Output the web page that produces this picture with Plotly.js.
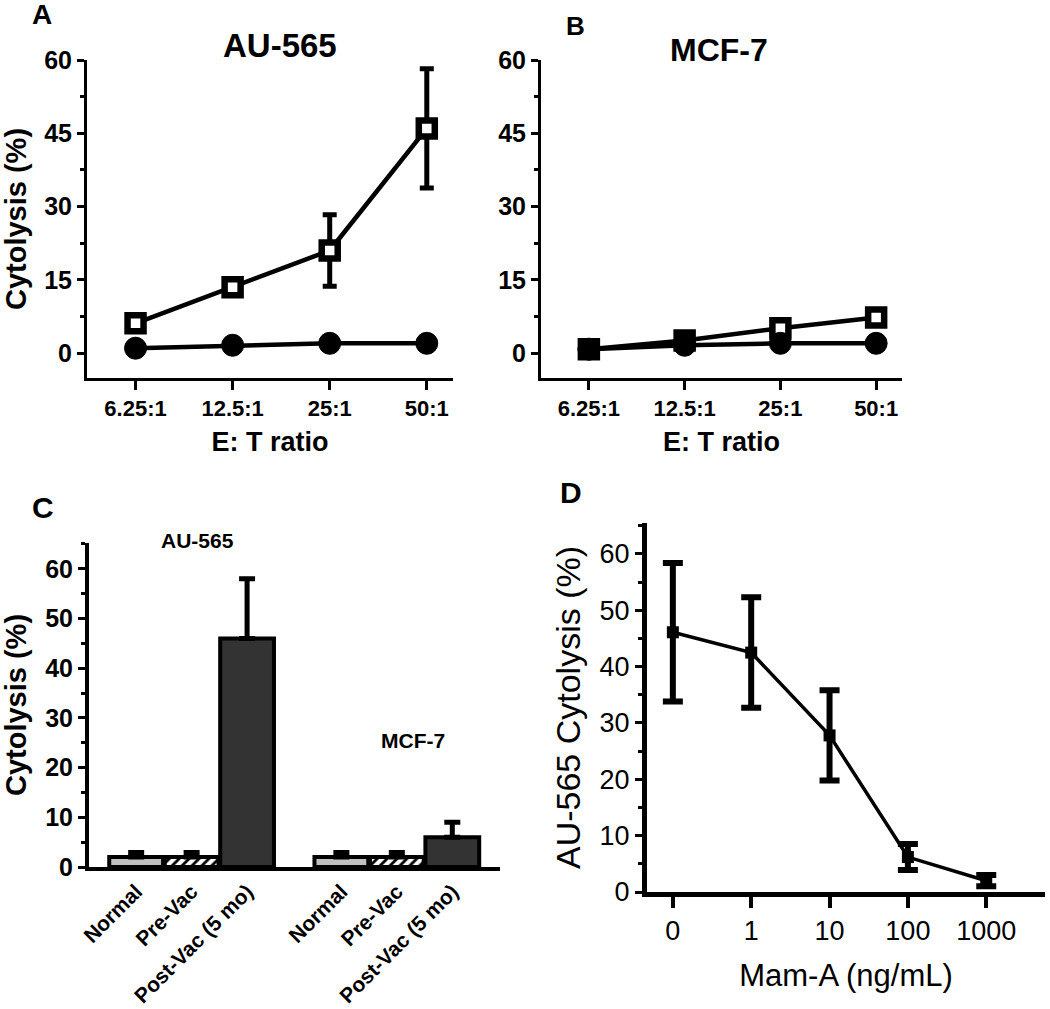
<!DOCTYPE html>
<html>
<head>
<meta charset="utf-8">
<script src="https://cdn.plot.ly/plotly-3.0.1.min.js"></script>
<style>html,body{margin:0;padding:0;background:#fff}#chart{width:1050px;height:1009px}</style>
</head>
<body>
<div id="chart"></div>
<script>
// ---------- DATA ----------
const ratios = ["6.25:1", "12.5:1", "25:1", "50:1"];
// Panel A (AU-565)
const auPost = [6.1, 13.5, 21.0, 46.0];
const auPostErr = [1.5, 1.5, 7.3, 12.2];
const auPre = [1.0, 1.6, 2.0, 2.0];
const auPreErr = [1.0, 1.0, 1.0, 1.0];
// Panel B (MCF-7)
const mcfPost = [0.8, 2.6, 5.1, 7.3];
const mcfPostErr = [1.0, 1.0, 1.0, 1.2];
const mcfPre = [0.8, 1.6, 2.0, 2.0];
const mcfPreErr = [1.0, 1.0, 1.0, 1.0];
// Panel C
const cellLines = ["AU-565", "MCF-7"];
const conditions = ["Normal", "Pre-Vac", "Post-Vac (5 mo)"];
const normalVals = [2.0, 2.0];
const normalErr = [0.9, 0.9];
const preVacVals = [2.0, 2.0];
const preVacErr = [0.9, 0.9];
const postVacVals = [46.0, 6.0];
const postVacErr = [12.0, 3.0];
// Panel D
const mamDoses = ["0", "1", "10", "100", "1000"];
const mamVals = [46.1, 42.5, 27.8, 6.2, 2.0];
const mamErr = [12.3, 9.8, 8.0, 2.3, 1.0];

// ---------- LAYOUT HELPERS ----------
const W = 1050, H = 1009;
const dx = (a, b) => [a / W, b / W];
const dy = (top, bottom) => [1 - bottom / H, 1 - top / H];
const FONT = "Liberation Sans, Arial, sans-serif";
const boldF = (s) => ({family: FONT, size: s, color: "#000", weight: "bold"});
const regF = (s) => ({family: FONT, size: s, color: "#000"});

// ---------- TRACES ----------
const traces = [];
function lineSeries(xa, ya, x, y, e, symbol) {
  const open = symbol === "square";
  return {
    type: "scatter", mode: "lines+markers", xaxis: xa, yaxis: ya,
    x: x, y: y, cliponaxis: false,
    line: {color: "#000", width: 4.5},
    marker: open
      ? {symbol: "square", size: 16, color: "#fff", line: {color: "#000", width: 6.5}}
      : {symbol: "circle", size: 22, color: "#000", line: {color: "#000", width: 1}},
    error_y: {type: "data", array: e, visible: true, color: "#000", thickness: 5, width: 7},
    showlegend: false, hoverinfo: "x+y"
  };
}
traces.push(lineSeries("x", "y", ratios, auPost, auPostErr, "square"));
traces.push(lineSeries("x", "y", ratios, auPre, auPreErr, "circle"));
traces.push(lineSeries("x2", "y2", ratios, mcfPost, mcfPostErr, "square"));
traces.push(lineSeries("x2", "y2", ratios, mcfPre, mcfPreErr, "circle"));

// Panel C bars
const groupGap = 3.7;
const condVals = [normalVals, preVacVals, postVacVals];
const condErr = [normalErr, preVacErr, postVacErr];
const condColor = ["#c0c0c0", "#ffffff", "#333333"];
conditions.forEach((c, k) => {
  const bar = {
    type: "bar", xaxis: "x3", yaxis: "y3", name: c,
    x: cellLines.map((_, g) => g * groupGap + k),
    y: condVals[k], width: 0.97,
    marker: {color: condColor[k], line: {color: "#000", width: 4}},
    error_y: {type: "data", symmetric: false, array: condErr[k],
              arrayminus: condErr[k].map(() => 0), visible: true,
              color: "#000", thickness: 5, width: 8},
    showlegend: false
  };
  if (k === 1) {
    bar.marker.pattern = {shape: "/", fgcolor: "#000", bgcolor: "#fff", size: 7, solidity: 0.4};
  }
  traces.push(bar);
});

// Panel D
traces.push({
  type: "scatter", mode: "lines+markers", xaxis: "x4", yaxis: "y4",
  x: mamDoses, y: mamVals, cliponaxis: false,
  line: {color: "#000", width: 3.5},
  marker: {symbol: "square", size: 12, color: "#000"},
  error_y: {type: "data", array: mamErr, visible: true, color: "#000", thickness: 6, width: 10},
  showlegend: false
});

// ---------- AXES ----------
const catX = (domain, range) => ({
  domain: domain, range: range, type: "category",
  showgrid: false, zeroline: false, showline: true, linecolor: "#000", linewidth: 3,
  ticks: "outside", ticklen: 9, tickwidth: 3, tickcolor: "#000",
  tickfont: boldF(22), fixedrange: true
});
const valY = (domain, range, dtick, minorDt, lw) => ({
  domain: domain, range: range, showgrid: false, zeroline: false,
  showline: true, linecolor: "#000", linewidth: lw,
  ticks: "outside", ticklen: 7, tickwidth: 3, tickcolor: "#000",
  tickmode: "linear", tick0: 0, dtick: dtick,
  minor: {dtick: minorDt, tick0: 0, ticks: "outside", ticklen: 4, tickwidth: 3, tickcolor: "#000"},
  fixedrange: true
});

const ann = (text, x, y, font) => ({
  text: text, x: x / W, y: 1 - y / H, xref: "paper", yref: "paper",
  xanchor: "center", yanchor: "middle", showarrow: false, font: font
});

const layout = {
  width: W, height: H, margin: {l: 0, r: 0, t: 0, b: 0},
  paper_bgcolor: "#fff", plot_bgcolor: "rgba(0,0,0,0)",
  showlegend: false, barmode: "overlay",
  font: regF(16),
  // A
  xaxis: Object.assign(catX(dx(87, 453), [-0.5, 3.27]), {
    anchor: "y",
    title: {text: "E: T ratio", font: boldF(27), standoff: 12}
  }),
  yaxis: Object.assign(valY(dy(60, 378), [-5.1, 60], 15, 7.5, 3), {
    anchor: "x", tickfont: boldF(25),
    title: {text: "Cytolysis (%)", font: boldF(29), standoff: 12}
  }),
  // B
  xaxis2: Object.assign(catX(dx(541, 902), [-0.5, 3.27]), {
    anchor: "y2",
    title: {text: "E: T ratio", font: boldF(27), standoff: 12}
  }),
  yaxis2: Object.assign(valY(dy(60, 378), [-5.1, 60], 15, 7.5, 3), {
    anchor: "x2", tickfont: boldF(25)
  }),
  // C
  xaxis3: {
    domain: dx(89, 500), range: [-0.85, 6.56], anchor: "y3",
    showgrid: false, zeroline: false, showline: true, linecolor: "#000", linewidth: 4,
    ticks: "", tickmode: "array",
    tickvals: cellLines.flatMap((_, g) => conditions.map((_, k) => g * groupGap + k)),
    ticktext: cellLines.flatMap(() => conditions),
    tickangle: -45, tickfont: boldF(21), fixedrange: true
  },
  yaxis3: Object.assign(valY(dy(543, 867), [0, 65.2], 10, 5, 4), {
    anchor: "x3", tickfont: boldF(25),
    title: {text: "Cytolysis (%)", font: boldF(29), standoff: 12}
  }),
  // D
  xaxis4: {
    domain: dx(647, 1045), range: [-0.33, 4.75], type: "category", anchor: "y4",
    showgrid: false, zeroline: false, showline: true, linecolor: "#000", linewidth: 5,
    ticks: "outside", ticklen: 11, tickwidth: 4, tickcolor: "#000",
    tickfont: regF(27), fixedrange: true,
    title: {text: "Mam-A (ng/mL)", font: regF(31), standoff: 20}
  },
  yaxis4: Object.assign(valY(dy(523, 892), [0, 65.5], 10, 5, 5), {
    anchor: "x4", tickfont: regF(27),
    title: {text: "AU-565 Cytolysis (%)", font: regF(34), standoff: 10}
  }),
  annotations: [
    ann("A", 42, 15, boldF(28)),
    ann("B", 575, 26, boldF(26)),
    ann("C", 43, 507, boldF(30)),
    ann("D", 571, 492, boldF(30)),
    ann("AU-565", 280, 45, boldF(33)),
    ann("MCF-7", 719, 50, boldF(32)),
    ann(cellLines[0], 197, 540, boldF(21)),
    ann(cellLines[1], 413, 740, boldF(21))
  ]
};

Plotly.newPlot("chart", traces, layout, {staticPlot: true, displayModeBar: false});
</script>
</body>
</html>
